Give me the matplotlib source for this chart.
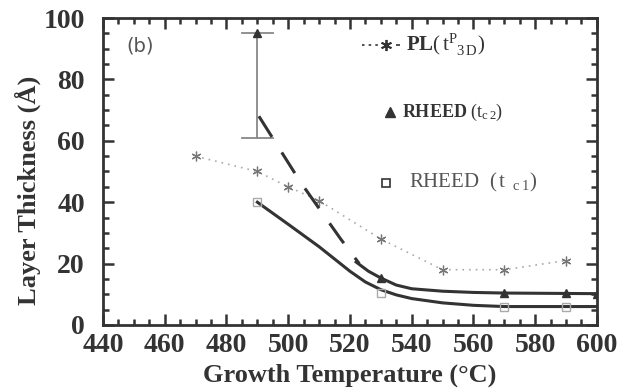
import numpy as np
import matplotlib.pyplot as plt
from matplotlib.ticker import MultipleLocator

plt.rcParams['font.family'] = ['Liberation Serif', 'DejaVu Serif']
plt.rcParams['mathtext.fontset'] = 'custom'
plt.rcParams['mathtext.rm'] = 'Liberation Serif'
plt.rcParams['mathtext.it'] = 'Liberation Serif:bold'
plt.rcParams['mathtext.bf'] = 'Liberation Serif:bold'

# PL (t^P_3D) data points
pl_temp = [470, 490, 500, 510, 530, 550, 570, 590]
pl_thick = [55, 50, 45, 40.5, 28, 18, 18, 21]

# RHEED t_c2 data points
tc2_temp = [490, 530, 570, 590, 600]
tc2_thick = [95, 15.3, 10.4, 10.4, 10.2]
tc2_err_low = 61

# RHEED t_c1 data points
tc1_temp = [490, 530, 570, 590]
tc1_thick = [40, 10.5, 6, 6]

# guide curves
tc1_curve_t = [490, 500, 510, 520, 525, 530, 535, 540, 550, 560, 570, 600]
tc1_curve_v = [40, 32.8, 25.5, 17.5, 14, 11.5, 9.8, 8.6, 7.2, 6.4, 6, 6]
tc2_dash_t = [490.5, 504, 517, 523]
tc2_dash_v = [68, 46.5, 28, 20]
tc2_curve_t = [522, 526, 530, 535, 540, 550, 560, 570, 600]
tc2_curve_v = [20.5, 17.5, 15.3, 13, 11.8, 11, 10.6, 10.4, 10.2]

fig = plt.figure(figsize=(6.34, 3.92), dpi=100)
ax = fig.add_axes([0.1625, 0.171, 0.779, 0.783])

dark = '#333333'
gray = '#888888'

# PL
ax.plot(pl_temp, pl_thick, linestyle=(0, (1, 3)), color='#aaaaaa', lw=1.2)
ax.plot(pl_temp, pl_thick, linestyle='none', marker=(6, 2, 0), ms=7,
        color='#777777', mew=0.9)

# t_c2
ax.plot([tc2_temp[0], tc2_temp[0]], [tc2_err_low, tc2_thick[0]], color=gray, lw=1.3)
ax.plot([485, 495], [tc2_thick[0]] * 2, color=gray, lw=1.3)
ax.plot([485, 495], [tc2_err_low] * 2, color=gray, lw=1.3)
ax.plot(tc2_dash_t, tc2_dash_v, color=dark, lw=2.2, dashes=(8, 6), solid_capstyle='butt')
ax.plot(tc2_curve_t, tc2_curve_v, color=dark, lw=2.2)
ax.plot(tc2_temp, tc2_thick, linestyle='none', marker='^', ms=6, color=dark)

# t_c1
ax.plot(tc1_curve_t, tc1_curve_v, color=dark, lw=2.2)
ax.plot(tc1_temp, tc1_thick, linestyle='none', marker='s', ms=6,
        mfc='none', mec='#aaaaaa', mew=1.0)

ax.set_xlim(440, 600)
ax.set_ylim(0, 100)
ax.xaxis.set_major_locator(MultipleLocator(20))
ax.xaxis.set_minor_locator(MultipleLocator(5))
ax.yaxis.set_major_locator(MultipleLocator(20))
ax.yaxis.set_minor_locator(MultipleLocator(5))
ax.tick_params(which='both', direction='in', top=True, right=True,
               color=dark, width=1.8, labelcolor=dark)
ax.tick_params(which='major', length=8, labelsize=20)
ax.tick_params(axis='x', which='major', pad=6)
ax.tick_params(axis='y', which='major', pad=13)
ax.tick_params(which='minor', length=4)
for lab in ax.get_xticklabels() + ax.get_yticklabels():
    lab.set_fontweight('bold')
for s in ax.spines.values():
    s.set_linewidth(2)
    s.set_color(dark)

ax.set_xlabel('Growth Temperature (°C)', fontsize=19, fontweight='bold',
              color=dark, labelpad=4)
ax.set_ylabel('Layer Thickness (Å)', fontsize=19, fontweight='bold',
              color=dark, labelpad=4)
ax.yaxis.set_label_coords(-0.125, 0.44)

ax.text(447.5, 91, '(b)', fontsize=14, color='#555555', family='DejaVu Sans',
        va='center')

# legend drawn as text
ax.plot([524, 529], [91.2, 91.2], linestyle=(0, (1.5, 2.5)), color=dark, lw=1.2)
ax.plot([531.7], [91.2], marker=(6, 2, 0), ms=8, color=dark, mew=1.3)
ax.plot([535.5], [91.2], marker='_', ms=3, color=dark, mew=1.2)
ax.text(538, 91.2, r'PL$(\,\mathrm{t}^{\mathrm{P}}_{\ \ 3\,\mathrm{D}})$', fontsize=15,
        fontweight='bold', color=dark, va='center')
ax.plot([533], [69.4], marker='^', ms=7, color=dark)
ax.text(537, 69.4, r'RHEED $(\mathrm{t}_{\mathrm{c}\,2})$', fontsize=13,
        fontweight='bold', color=dark, va='center')
ax.plot([531.7], [46.3], marker='s', ms=6, mfc='none', mec=dark, mew=1.2)
ax.text(539, 46.3, r'RHEED  $(\,\mathrm{t}_{\ \ \mathrm{c}\,1})$', fontsize=15,
        color='#555555', va='center')

fig.savefig('out.png', dpi=100)
